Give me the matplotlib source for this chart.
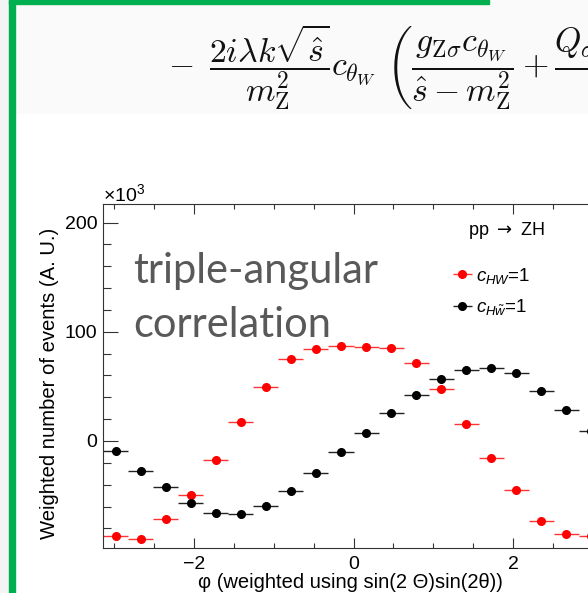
import numpy as np
import matplotlib
matplotlib.use('Agg')
import matplotlib.pyplot as plt
from matplotlib.patches import Rectangle

# phi bins (20 bins over -pi..pi) and weighted yields (x10^3)
nBins = 20
valuesHW = [-86.6, -89.4, -71.7, -49.4, -17.1, 17.7, 49.4, 74.7, 84.2, 87.2,
            85.7, 85.1, 71.7, 47.5, 15.8, -15.3, -45.1, -72.9, -85.4, -87.0]
valuesHWt = [-8.9, -27.4, -42.1, -56.4, -66.2, -67.1, -59.2, -46.0, -29.6, -10.4,
             7.3, 25.9, 42.4, 56.7, 65.0, 67.1, 62.0, 46.0, 28.1, 9.1]
labelHW = r"$c_{HW}$=1"
labelHWt = r"$c_{H\tilde{w}}$=1"

plt.rcParams['font.family'] = ['Liberation Sans', 'DejaVu Sans']
plt.rcParams['mathtext.fontset'] = 'custom'
plt.rcParams['mathtext.rm'] = 'Liberation Sans'
plt.rcParams['mathtext.it'] = 'Liberation Sans:italic'

W, H = 588, 593
fig = plt.figure(figsize=(W / 100, H / 100), dpi=100)
fig.patch.set_facecolor('white')

# slide decorations
fig.patches.append(Rectangle((0, 0), 9 / W, 1, transform=fig.transFigure,
                             color='#f4f4f4', zorder=0))
fig.patches.append(Rectangle((15 / W, 1 - 113 / H), 1, 113 / H, transform=fig.transFigure,
                             color='#fafafa', zorder=0))
fig.patches.append(Rectangle((9 / W, 0), 5.5 / W, 1, transform=fig.transFigure,
                             color='#00b050', zorder=5))
fig.patches.append(Rectangle((9 / W, 1 - 4 / H), 480 / W, 4 / H, transform=fig.transFigure,
                             color='#00b050', zorder=5))

eq = (r"$-\ \,\dfrac{2i\lambda k\sqrt{\hat{s}}}{m_{\mathrm{Z}}^2}c_{\theta_W}\ \left("
      r"\dfrac{g_{\mathrm{Z}\sigma}c_{\theta_W}}{\hat{s}-m_{\mathrm{Z}}^2}+"
      r"\dfrac{Q_{\sigma}e^2 s_{\theta_W}}{\hat{s}}\right)$")
fig.text(168 / W, 1 - 67 / H, eq, fontsize=24.3, ha='left', va='center',
         math_fontfamily='cm', color='#111111')

ax = fig.add_axes([103 / W, 45 / H, 501 / W, 344 / H])

edges = np.linspace(-np.pi, np.pi, nBins + 1)
centers = 0.5 * (edges[1:] + edges[:-1])
halfw = 0.5 * (edges[1] - edges[0])

eb1 = ax.errorbar(centers, valuesHW, xerr=halfw, fmt='o', color='#ff0000',
                  ecolor='#ff3333', markersize=5.5, elinewidth=1.0, capsize=0,
                  label=labelHW, clip_on=False)
eb2 = ax.errorbar(centers, valuesHWt, xerr=halfw, fmt='o', color='black',
                  ecolor='#222222', markersize=5.5, elinewidth=1.0, capsize=0,
                  label=labelHWt, clip_on=False)

ax.set_xlim(-np.pi, np.pi)
ax.set_ylim(-98, 217)
ax.set_xticks([-2, 0, 2])
ax.set_xticks(np.arange(-3, 3.01, 0.5), minor=True)
ax.set_yticks([0, 100, 200])
ax.set_yticks(np.arange(-80, 217, 20), minor=True)
ax.tick_params(axis='both', which='both', direction='in', top=True, right=True,
               labelsize=14, width=0.8, color='#333333')
ax.tick_params(axis='x', which='major', length=7.2, pad=6)
ax.tick_params(axis='x', which='minor', length=3.6)
ax.tick_params(axis='y', which='major', length=10.8, pad=4)
ax.tick_params(axis='y', which='minor', length=5.4)
for s in ax.spines.values():
    s.set_linewidth(0.8)
    s.set_color('#333333')

fig.text(103 / W, 1 - 194 / H, r"$\times$10$^3$", fontsize=14, ha='left', va='center')
fig.text(50 / W, 1 - 383 / H, "Weighted number of events (A. U.)", fontsize=14.6,
         rotation=90, ha='center', va='center')
fig.text(350 / W, 1 - 583 / H, "φ (weighted using sin(2 Θ)sin(2θ))", fontsize=14.5,
         ha='center', va='center')

fig.text(468 / W, 1 - 230 / H, r"pp $\rightarrow$ ZH", fontsize=13, ha='left', va='center',
         math_fontfamily='dejavusans')

ax.legend(handles=[eb1, eb2], loc='upper left', bbox_to_anchor=(452 / W, 1 - 266 / H),
          bbox_transform=fig.transFigure, frameon=False, fontsize=13.5,
          handlelength=1.1, handletextpad=0.2, labelspacing=0.6,
          borderpad=0, borderaxespad=0)

fig.text(133 / W, 1 - 337 / H, "triple-angular\ncorrelation", fontsize=30,
         family='Lato', color='#595959', ha='left', va='baseline', linespacing=1.5)

fig.savefig('out.png', dpi=100)
